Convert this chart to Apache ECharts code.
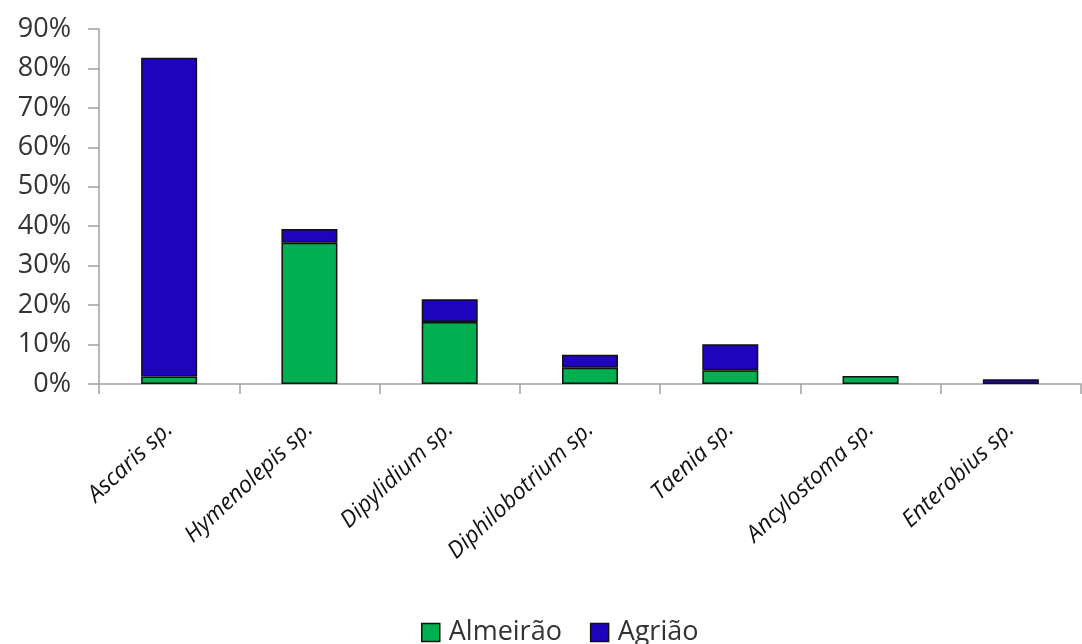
<!DOCTYPE html>
<html>
<head>
<meta charset="utf-8">
<script src="https://cdn.jsdelivr.net/npm/echarts@6/dist/echarts.min.js"></script>
<style>
    html, body { margin: 0; padding: 0; background: #fff; }
    #chart { width: 1082px; height: 644px; }
</style>
</head>
<body>
<div id="chart"></div>
<script>
// parasites found on each vegetable (% of samples)
const categories = ['Ascaris sp.', 'Hymenolepis sp.', 'Dipylidium sp.', 'Diphilobotrium sp.', 'Taenia sp.', 'Ancylostoma sp.', 'Enterobius sp.'];
const almeirao = [1.9, 35.8, 15.7, 4.1, 3.5, 2.0, null];
const agriao = [80.8, 3.5, 5.8, 3.3, 6.6, null, 1.2];
const yTicks = { min: 0, max: 90, interval: 10 };

const colorList = ['#00B050', '#1F04BE'];
const font = 'Open Sans';

const myChart = echarts.init(document.getElementById('chart'));

const barStyle = (color) => ({
    color: color,
    borderColor: '#111',
    borderWidth: 1.5
});

const option = {
    animation: false,
    backgroundColor: '#fff',
    legend: {
        top: 614,
        left: 416,
        icon: 'rect',
        itemWidth: 18,
        itemHeight: 18,
        itemGap: 28,
        itemStyle: { borderColor: '#111', borderWidth: 1.5 },
        textStyle: { fontFamily: font, fontSize: 27, color: '#333', padding: [0, 0, 0, 4] },
        data: ['Almeirão', 'Agrião']
    },
    grid: {
        left: 99,
        right: 1,
        top: 29,
        bottom: 260,
        containLabel: false
    },
    xAxis: {
        type: 'category',
        data: categories,
        axisLine: { lineStyle: { color: '#a0a0a0', width: 1.5 } },
        axisTick: { show: true, length: 10, lineStyle: { color: '#a0a0a0', width: 1.5 } },
        axisLabel: {
            interval: 0,
            rotate: 43,
            margin: 42,
            fontFamily: font,
            fontStyle: 'italic',
            fontSize: 23,
            color: '#111'
        }
    },
    yAxis: {
        type: 'value',
        min: yTicks.min,
        max: yTicks.max,
        interval: yTicks.interval,
        axisLine: { show: true, lineStyle: { color: '#a0a0a0', width: 1.5 } },
        axisTick: { show: true, length: 11, lineStyle: { color: '#a0a0a0', width: 1.5 } },
        splitLine: { show: false },
        axisLabel: {
            margin: 28,
            fontFamily: font,
            fontSize: 27,
            color: '#333',
            formatter: '{value}%'
        }
    },
    series: [
        {
            name: 'Almeirão',
            type: 'bar',
            stack: 'total',
            barWidth: 56,
            itemStyle: barStyle(colorList[0]),
            data: almeirao
        },
        {
            name: 'Agrião',
            type: 'bar',
            stack: 'total',
            barWidth: 56,
            itemStyle: barStyle(colorList[1]),
            data: agriao
        }
    ]
};

myChart.setOption(option);
</script>
</body>
</html>
